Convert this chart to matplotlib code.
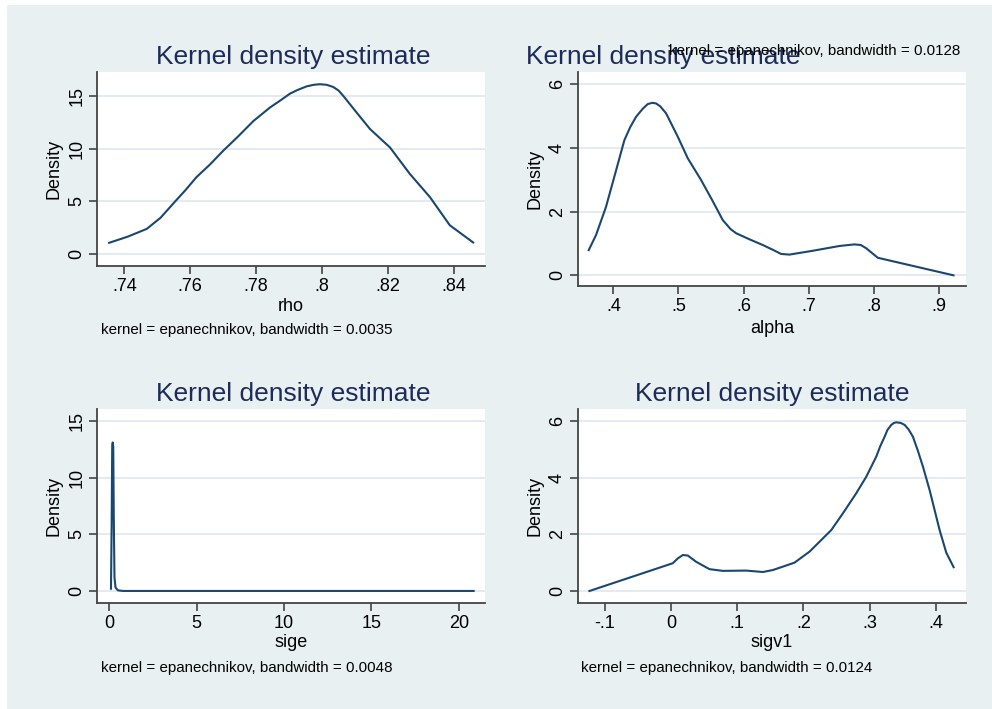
import numpy as np
import matplotlib
matplotlib.use('Agg')
import matplotlib.pyplot as plt
from matplotlib.patches import Rectangle

plt.rcParams['font.family'] = ['Liberation Sans', 'DejaVu Sans']

# --- data ---
rho_x = [0.7354, 0.7410, 0.7468, 0.7510, 0.7548, 0.7585, 0.7619, 0.7660, 0.7700, 0.7745,
         0.7791, 0.7842, 0.7875, 0.7902, 0.7925, 0.7953, 0.7975, 0.7993, 0.8013, 0.8033,
         0.8050, 0.8064, 0.8105, 0.8145, 0.8206, 0.8266, 0.8327, 0.8387, 0.8458]
rho_y = [1.07, 1.65, 2.39, 3.45, 4.78, 6.05, 7.30, 8.50, 9.80, 11.15,
         12.60, 13.90, 14.60, 15.20, 15.55, 15.90, 16.05, 16.10, 16.05, 15.85,
         15.50, 15.00, 13.40, 11.86, 10.10, 7.60, 5.40, 2.74, 1.10]

alpha_x = [0.3622, 0.3734, 0.3888, 0.4030, 0.4170, 0.4260, 0.4349, 0.4450, 0.4528, 0.4600,
           0.4656, 0.4720, 0.4810, 0.4989, 0.5143, 0.5347, 0.5520, 0.5681, 0.5800, 0.5885,
           0.6089, 0.6295, 0.6450, 0.6576, 0.6704, 0.7063, 0.7472, 0.7702, 0.7800, 0.7882,
           0.8061, 0.9223]
alpha_y = [0.79, 1.26, 2.15, 3.20, 4.24, 4.65, 4.97, 5.22, 5.37, 5.41,
           5.39, 5.30, 5.08, 4.35, 3.67, 2.99, 2.35, 1.73, 1.45, 1.32,
           1.13, 0.95, 0.80, 0.67, 0.65, 0.77, 0.92, 0.97, 0.95, 0.85,
           0.55, 0.00]

sige_x = [0.10, 0.14, 0.17, 0.20, 0.23, 0.26, 0.30, 0.36, 0.50, 0.80, 20.85]
sige_y = [0.20, 6.00, 12.80, 13.10, 12.70, 6.50, 1.20, 0.30, 0.05, 0.00, 0.00]

sigv1_x = [-0.1236, 0.0025, 0.0101, 0.0177, 0.0252, 0.0378, 0.0580, 0.0782, 0.1135, 0.1387,
           0.1538, 0.1690, 0.1865, 0.2093, 0.2421, 0.2597, 0.2799, 0.2950, 0.3101, 0.3160,
           0.3227, 0.3270, 0.3328, 0.3370, 0.3404, 0.3470, 0.3530, 0.3590, 0.3656, 0.3730,
           0.3808, 0.3908, 0.4059, 0.4160, 0.4271]
sigv1_y = [0.00, 0.98, 1.15, 1.27, 1.25, 1.03, 0.77, 0.71, 0.72, 0.67,
           0.74, 0.86, 1.00, 1.39, 2.15, 2.74, 3.45, 4.03, 4.74, 5.10,
           5.44, 5.68, 5.86, 5.93, 5.95, 5.93, 5.86, 5.70, 5.44, 4.95,
           4.38, 3.56, 2.15, 1.35, 0.84]

panels = [
    dict(x=rho_x, y=rho_y, xlabel='rho', bw='0.0035',
         xticks=[0.74, 0.76, 0.78, 0.80, 0.82, 0.84], xtl=['.74', '.76', '.78', '.8', '.82', '.84'],
         yticks=[0, 5, 10, 15], xlim=(0.7317, 0.8494), ylim=(-1.13, 17.26)),
    dict(x=alpha_x, y=alpha_y, xlabel='alpha', bw='0.0128',
         xticks=[0.4, 0.5, 0.6, 0.7, 0.8, 0.9], xtl=['.4', '.5', '.6', '.7', '.8', '.9'],
         yticks=[0, 2, 4, 6], xlim=(0.3453, 0.9415), ylim=(-0.335, 6.376)),
    dict(x=sige_x, y=sige_y, xlabel='sige', bw='0.0048',
         xticks=[0, 5, 10, 15, 20], xtl=['0', '5', '10', '15', '20'],
         yticks=[0, 5, 10, 15], xlim=(-0.70, 21.5), ylim=(-1.09, 16.03)),
    dict(x=sigv1_x, y=sigv1_y, xlabel='sigv1', bw='0.0124',
         xticks=[-0.1, 0, 0.1, 0.2, 0.3, 0.4], xtl=['-.1', '0', '.1', '.2', '.3', '.4'],
         yticks=[0, 2, 4, 6], xlim=(-0.1413, 0.4458), ylim=(-0.434, 6.41)),
]

W, H = 992, 709
bg = '#e8f0f2'
navy = '#1a476f'
title_col = '#1c2b5a'
grid_col = '#dfe8ed'
axis_col = '#444444'

fig = plt.figure(figsize=(W / 100, H / 100), dpi=100)
fig.patch.set_facecolor('white')
fig.patches.append(Rectangle((7 / W, 0), 1, 1 - 5 / H, transform=fig.transFigure,
                             facecolor=bg, edgecolor='none', zorder=-10))


def px(x, y):
    return x / W, 1 - y / H


# axes boxes in pixels: left, top, right, bottom
boxes = [(97, 72, 485, 266), (577.7, 72, 966, 286),
         (97, 409.3, 485, 603.3), (577.7, 409.3, 966, 603.3)]

for p, (l, t, r, b) in zip(panels, boxes):
    ax = fig.add_axes([l / W, 1 - b / H, (r - l) / W, (b - t) / H])
    ax.set_facecolor('white')
    ax.plot(p['x'], p['y'], color=navy, lw=1.5)
    ax.set_xlim(*p['xlim'])
    ax.set_ylim(*p['ylim'])
    ax.set_xticks(p['xticks'])
    ax.set_xticklabels(p['xtl'])
    ax.set_yticks(p['yticks'])
    ax.set_yticklabels([str(v) for v in p['yticks']])
    for s in ['top', 'right']:
        ax.spines[s].set_visible(False)
    for s in ['left', 'bottom']:
        ax.spines[s].set_linewidth(1.3)
        ax.spines[s].set_color(axis_col)
    ax.grid(axis='y', color=grid_col, lw=1.2)
    ax.set_axisbelow(True)
    ax.tick_params(length=5.5, width=1.2, color=axis_col, labelsize=13, pad=3)
    ax.tick_params(axis='y', labelrotation=90, pad=3)
    for lab in ax.get_yticklabels():
        lab.set_va('center')

# titles, axis labels and notes
title_kw = dict(fontsize=19, color=title_col, ha='center', va='baseline')
fig.text(*px(293, 64), 'Kernel density estimate', **title_kw)
fig.text(*px(663, 64), 'Kernel density estimate', **title_kw)
fig.text(*px(293, 400.7), 'Kernel density estimate', **title_kw)
fig.text(*px(772.7, 400.7), 'Kernel density estimate', **title_kw)

lab_kw = dict(fontsize=13, color='black', ha='center', va='baseline')
fig.text(*px(291, 311), panels[0]['xlabel'], **lab_kw)
fig.text(*px(772, 333), panels[1]['xlabel'], **lab_kw)
fig.text(*px(291, 647), panels[2]['xlabel'], **lab_kw)
fig.text(*px(772, 647), panels[3]['xlabel'], **lab_kw)

ylab_kw = dict(fontsize=13, color='black', ha='center', va='center', rotation=90)
fig.text(*px(54, 169), 'Density', **ylab_kw)
fig.text(*px(535, 179), 'Density', **ylab_kw)
fig.text(*px(54, 506), 'Density', **ylab_kw)
fig.text(*px(535, 506), 'Density', **ylab_kw)

note = 'kernel = epanechnikov, bandwidth = {}'
note_kw = dict(fontsize=10.9, color='black', va='baseline')
fig.text(*px(100.7, 334), note.format(panels[0]['bw']), ha='left', **note_kw)
fig.text(*px(960, 55), note.format(panels[1]['bw']), ha='right', **note_kw)
fig.text(*px(100.7, 671.7), note.format(panels[2]['bw']), ha='left', **note_kw)
fig.text(*px(581, 671.7), note.format(panels[3]['bw']), ha='left', **note_kw)

fig.savefig('out.png', dpi=100, facecolor=fig.get_facecolor())
